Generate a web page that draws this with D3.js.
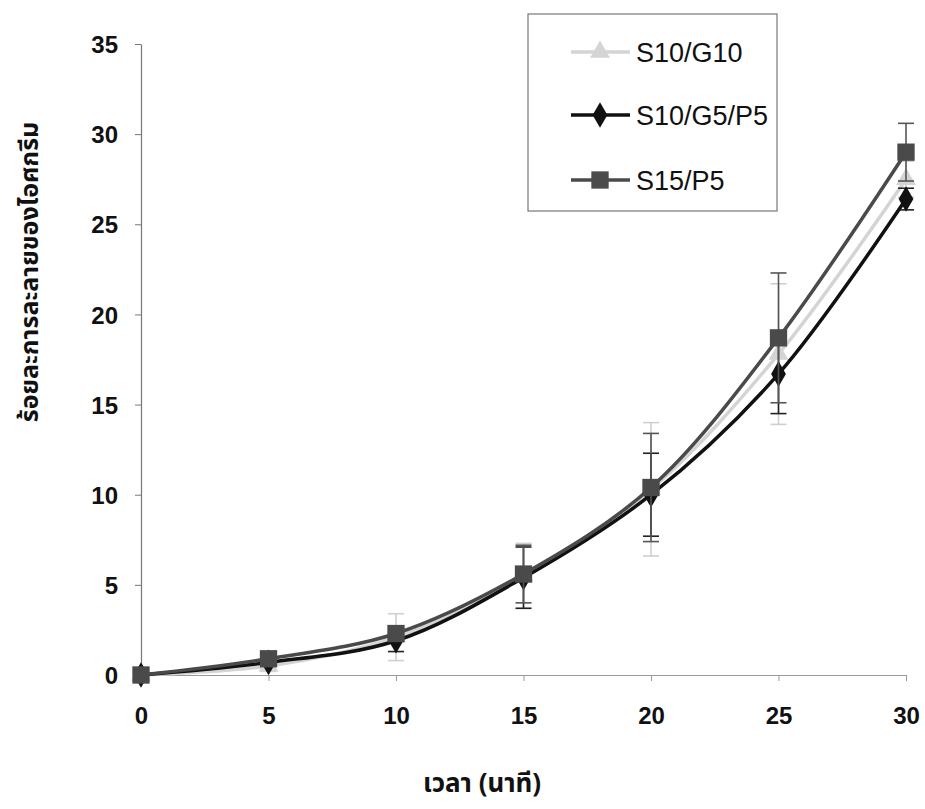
<!DOCTYPE html>
<html>
<head>
<meta charset="utf-8">
<script src="https://cdn.jsdelivr.net/npm/d3@7"></script>
<style>
  body { margin: 0; background: #fff; }
  svg { display: block; }
  .tick-label { font-family: Arial, "Liberation Sans", sans-serif; font-weight: bold; font-size: 24px; fill: #111; }
  .thai { font-family: "Noto Sans Thai", "Tahoma", "DejaVu Sans", sans-serif; font-weight: bold; fill: #111; }
  .legend-text { font-family: Arial, "Liberation Sans", sans-serif; font-size: 27px; fill: #111; }
</style>
</head>
<body>
<div class="chart"></div>
<script>
// minutes
const times = [0, 5, 10, 15, 20, 25, 30];
const yTicks = [0, 5, 10, 15, 20, 25, 30, 35];

// percent melted, per formula
const seriesNames = ['S10/G10', 'S10/G5/P5', 'S15/P5'];
const valuesG10 = [0, 0.5, 2.1, 5.5, 10.3, 17.8, 27.5];
const valuesG5P5 = [0, 0.7, 1.9, 5.4, 10.0, 16.7, 26.4];
const valuesP5 = [0, 0.9, 2.3, 5.6, 10.4, 18.7, 29.0];

// standard deviations
const errG10 = [0, 0.3, 1.3, 1.8, 3.7, 3.9, 1.0];
const errG5P5 = [0, 0.2, 0.6, 1.7, 2.3, 2.2, 0.6];
const errP5 = [0, 0.2, 0.4, 1.6, 3.0, 3.6, 1.6];

const w = 925;
const h = 809;

const svg = d3.select('.chart')
  .append('svg')
  .attr('width', w)
  .attr('height', h);

const xScale = d3.scaleLinear().domain([0, 30]).range([141, 906]);
const yScale = d3.scaleLinear().domain([0, 35]).range([675, 44]);

// axes
const yAxisG = svg.append('g')
  .attr('transform', 'translate(141,0)')
  .call(d3.axisLeft(yScale).tickValues(yTicks).tickSize(6).tickSizeOuter(0).tickPadding(17));
yAxisG.select('.domain').attr('stroke', '#777').attr('stroke-width', 1.2);
yAxisG.selectAll('.tick line').attr('stroke', '#777');
yAxisG.selectAll('.tick text').attr('class', 'tick-label').attr('dy', '0.36em');

const xAxisG = svg.append('g')
  .attr('transform', 'translate(0,675)')
  .call(d3.axisBottom(xScale).tickValues(times).tickSize(6).tickSizeOuter(0).tickPadding(26));
xAxisG.select('.domain').attr('stroke', '#999').attr('stroke-width', 1.2);
xAxisG.selectAll('.tick line').attr('stroke', '#999');
xAxisG.selectAll('.tick text').attr('class', 'tick-label');

// axis titles
svg.append('text')
  .attr('class', 'thai')
  .attr('transform', 'translate(38,272) rotate(-90)')
  .attr('text-anchor', 'middle')
  .style('font-size', '25px')
  .text('ร้อยละการละลายของไอศกรีม');

svg.append('text')
  .attr('class', 'thai')
  .attr('x', 482)
  .attr('y', 792)
  .attr('text-anchor', 'middle')
  .style('font-size', '26px')
  .text('เวลา (นาที)');

const series = [
  { name: seriesNames[0], values: valuesG10, err: errG10, color: '#d4d4d4', errColor: '#cfcfcf', marker: 'triangle' },
  { name: seriesNames[1], values: valuesG5P5, err: errG5P5, color: '#111', errColor: '#222', marker: 'diamond' },
  { name: seriesNames[2], values: valuesP5, err: errP5, color: '#4a4a4a', errColor: '#555', marker: 'square' }
];

const line = d3.line()
  .x((d, i) => xScale(times[i]))
  .y((d) => yScale(d))
  .curve(d3.curveCatmullRom.alpha(0.5));

const symbolOf = {
  triangle: d3.symbol().type(d3.symbolTriangle).size(170),
  diamond: d3.symbol().type(d3.symbolDiamond).size(190),
  square: d3.symbol().type(d3.symbolSquare).size(300)
};

series.forEach((s) => {
  const g = svg.append('g');

  // error bars
  const eb = g.selectAll('.err')
    .data(s.values.map((v, i) => ({ x: times[i], v: v, e: s.err[i] })).filter((d) => d.e > 0))
    .enter()
    .append('g')
    .attr('stroke', s.errColor)
    .attr('stroke-width', 1.6);
  eb.append('line')
    .attr('x1', (d) => xScale(d.x)).attr('x2', (d) => xScale(d.x))
    .attr('y1', (d) => yScale(d.v - d.e)).attr('y2', (d) => yScale(d.v + d.e));
  eb.append('line')
    .attr('x1', (d) => xScale(d.x) - 8).attr('x2', (d) => xScale(d.x) + 8)
    .attr('y1', (d) => yScale(d.v + d.e)).attr('y2', (d) => yScale(d.v + d.e));
  eb.append('line')
    .attr('x1', (d) => xScale(d.x) - 8).attr('x2', (d) => xScale(d.x) + 8)
    .attr('y1', (d) => yScale(d.v - d.e)).attr('y2', (d) => yScale(d.v - d.e));

  g.append('path')
    .datum(s.values)
    .attr('d', line)
    .attr('fill', 'none')
    .attr('stroke', s.color)
    .attr('stroke-width', 3.5);

  g.selectAll('.pt')
    .data(s.values)
    .enter()
    .append('path')
    .attr('transform', (d, i) => `translate(${xScale(times[i])},${yScale(d)})`)
    .attr('d', symbolOf[s.marker])
    .attr('fill', s.color);
});

// legend
const legend = svg.append('g').attr('id', 'legend');
legend.append('rect')
  .attr('x', 528).attr('y', 14)
  .attr('width', 249).attr('height', 197)
  .attr('fill', '#fff')
  .attr('stroke', '#777')
  .attr('stroke-width', 1.2);

const legendY = [52, 115, 180];
series.forEach((s, i) => {
  const row = legend.append('g').attr('transform', `translate(0,${legendY[i]})`);
  row.append('line')
    .attr('x1', 571).attr('x2', 630)
    .attr('stroke', s.color).attr('stroke-width', 3.5);
  row.append('path')
    .attr('transform', 'translate(600,0)')
    .attr('d', symbolOf[s.marker])
    .attr('fill', s.color);
  row.append('text')
    .attr('class', 'legend-text')
    .attr('x', 636)
    .attr('dy', '0.36em')
    .text(s.name);
});
</script>
</body>
</html>
